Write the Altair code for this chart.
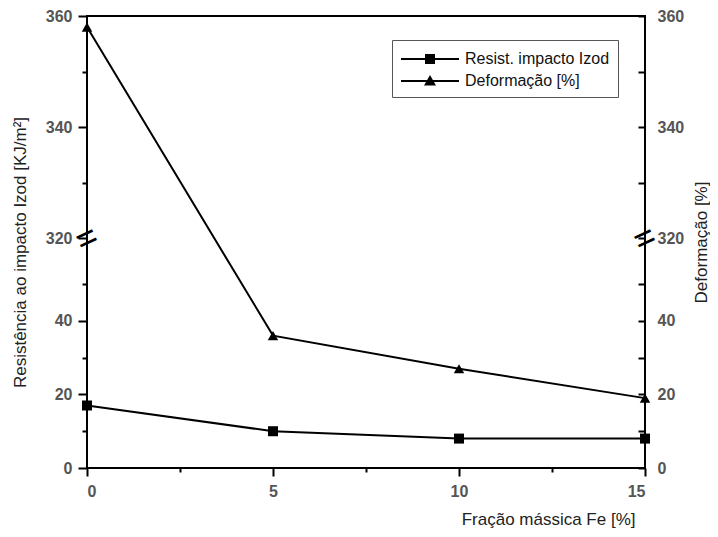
import altair as alt
import pandas as pd

# ---- data ----
fracao_fe = [0, 5, 10, 15]
izod = [17, 10, 8, 8]
deformacao = [358, 36, 27, 19]
series_names = ["Resist. impacto Izod", "Deformação [%]"]
y_ticks = [0, 10, 20, 30, 40, 50, 320, 330, 340, 350, 360]
x_ticks = [0, 2.5, 5, 7.5, 10, 12.5, 15]
break_x = [0, 15]
break_y = [191, 191]

FONT = "Liberation Sans"
W, H = 558, 452

df_izod = pd.DataFrame({"x": fracao_fe, "y": izod})
df_def = pd.DataFrame({"x": fracao_fe, "y": deformacao})
df_break = pd.DataFrame({"x": break_x, "y": break_y})
df_leg = pd.DataFrame({"serie": series_names})

yscale = alt.Scale(domain=[0, 62, 320, 360], range=[H, 224, 222, 0], nice=False, zero=False)
xscale = alt.Scale(domain=[0, 15], nice=False, zero=False)

xaxis = alt.Axis(
    orient="bottom",
    values=x_ticks,
    labelExpr="datum.value % 5 === 0 ? datum.label : ''",
    tickSize={"condition": {"test": "datum.value % 5 === 0", "value": 8}, "value": 4},
    tickColor="black", tickWidth=2, domain=False, grid=False,
    labelFont=FONT, labelFontSize=16, labelFontWeight="bold", labelColor="#555",
    labelPadding=7,
    title="Fração mássica Fe [%]", titleFont=FONT, titleFontSize=17, titleFontWeight="normal",
    titleColor="#222", titleX=548, titleY=51, titleAlign="right", titleBaseline="middle",
    titleAnchor="end",
)
x_enc = alt.X("x:Q", scale=xscale, axis=xaxis)

left_axis = alt.Axis(
    orient="left", values=y_ticks,
    labelExpr="datum.value % 20 === 0 ? datum.label : ''",
    tickSize={"condition": {"test": "datum.value % 20 === 0", "value": 9}, "value": 5},
    tickColor="black", tickWidth=2, domain=False, grid=False,
    labelFont=FONT, labelFontSize=16, labelFontWeight="bold", labelColor="#555",
    labelPadding=6,
    title="Resistência ao impacto Izod [KJ/m²]", titleFont=FONT, titleFontSize=17,
    titleFontWeight="normal", titleColor="#222", titleAngle=270,
    titleX=-67, titleY=236, titleAlign="center", titleBaseline="middle",
)
right_axis = alt.Axis(
    orient="right", values=y_ticks, offset=-7,
    labelExpr="datum.value % 20 === 0 ? datum.label : ''",
    tickSize=7, tickColor="black", tickWidth=2, domain=False, grid=False,
    labelFont=FONT, labelFontSize=16, labelFontWeight="bold", labelColor="#555",
    labelPadding=12,
    title="Deformação [%]", titleFont=FONT, titleFontSize=17,
    titleFontWeight="normal", titleColor="#222", titleAngle=270,
    titleX=63, titleY=226, titleAlign="center", titleBaseline="middle",
)

izod_layer = alt.Chart(df_izod).mark_line(
    color="black", strokeWidth=2,
    point=alt.OverlayMarkDef(shape="square", filled=True, size=100, color="black", opacity=1),
).encode(x=x_enc, y=alt.Y("y:Q", scale=yscale, axis=left_axis))

def_layer = alt.Chart(df_def).mark_line(
    color="black", strokeWidth=2,
    point=alt.OverlayMarkDef(shape="triangle-up", filled=True, size=110, color="black", opacity=1),
).encode(x=x_enc, y=alt.Y("y:Q", scale=yscale, axis=right_axis))

break_layer = alt.Chart(df_break).mark_text(
    text="=", fontSize=36, angle=335, color="black", font=FONT
).encode(x=x_enc, y=alt.Y("y:Q", scale=yscale, axis=None))

# legend symbols: line + marker drawn as filled shapes
path_sq = "M-1,-0.1H4.8V0.1H-1Z M1.4,-0.5H2.4V0.5H1.4Z"
path_tri = "M-1,-0.1H4.8V0.1H-1Z M1.9,-0.6L2.5,0.45H1.3Z"

legend_layer = alt.Chart(df_leg).mark_point(
    filled=True, fill="black", opacity=1
).encode(
    shape=alt.Shape(
        "serie:N",
        scale=alt.Scale(domain=series_names, range=[path_sq, path_tri]),
        legend=alt.Legend(
            title=None, orient="none", legendX=305, legendY=24,
            symbolSize=400, symbolFillColor="black", symbolOpacity=1,
            labelFont=FONT, labelFontSize=16, labelColor="#111", labelOffset=43,
            labelLimit=300, rowPadding=3, padding=8,
            strokeColor="#555", fillColor="white",
        ),
    )
).transform_filter("false")

chart = alt.layer(izod_layer, def_layer, break_layer, legend_layer).resolve_scale(
    y="independent"
).properties(
    width=W, height=H,
    autosize=alt.AutoSizeParams(type="none"),
    padding={"left": 79, "top": 8, "right": 65, "bottom": 61},
).configure_view(stroke="black", strokeWidth=2)

chart.save("out.html", embed_options={"renderer": "svg", "actions": False})
